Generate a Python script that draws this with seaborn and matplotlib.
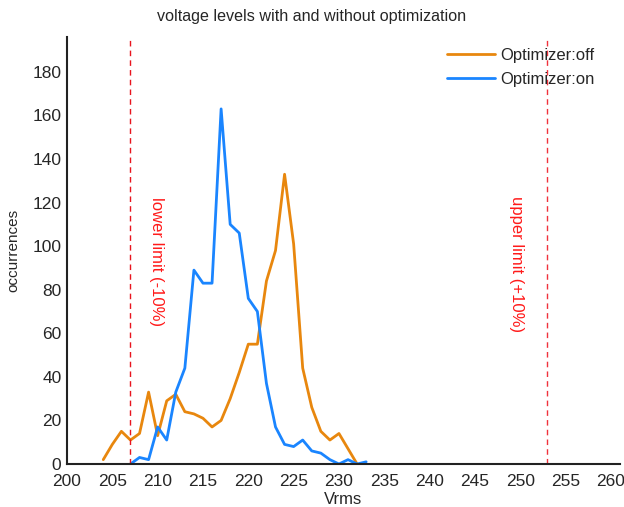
import numpy as np
import pandas as pd
import matplotlib
matplotlib.use("Agg")
import matplotlib.pyplot as plt
import seaborn as sns

# --- data ---
off_v = [204, 205, 206, 207, 208, 209, 210, 211, 212, 213, 214, 215, 216, 217, 218,
         219, 220, 221, 222, 223, 224, 225, 226, 227, 228, 229, 230, 231, 232]
off_n = [2, 9, 15, 11, 14, 33, 13, 29, 32, 24, 23, 21, 17, 20, 30,
         42, 55, 55, 84, 98, 133, 101, 44, 26, 15, 11, 14, 7, 0]
on_v = [207, 208, 209, 210, 211, 212, 213, 214, 215, 216, 217, 218, 219, 220, 221,
        222, 223, 224, 225, 226, 227, 228, 229, 230, 231, 232, 233]
on_n = [0, 3, 2, 17, 11, 33, 44, 89, 83, 83, 163, 110, 106, 76, 70,
        37, 17, 9, 8, 11, 6, 5, 2, 0, 2, 0, 1]
series_names = ["Optimizer:off", "Optimizer:on"]
series_colors = ["#E8870E", "#1A85FF"]
lower_limit = 207
upper_limit = 253
limit_labels = ["lower limit (-10%)", "upper limit (+10%)"]
x_ticks = list(range(200, 261, 5))
y_ticks = list(range(0, 181, 20))

df = pd.concat([
    pd.DataFrame({"Vrms": off_v, "occurrences": off_n, "series": series_names[0]}),
    pd.DataFrame({"Vrms": on_v, "occurrences": on_n, "series": series_names[1]}),
], ignore_index=True)

sns.set_theme(style="white")
plt.rcParams["font.family"] = ["Liberation Sans", "DejaVu Sans"]

W, H = 624, 507
fig = plt.figure(figsize=(W / 100, H / 100), dpi=100)
ax = fig.add_axes([67 / W, 1 - 464 / H, (620 - 67) / W, (464 - 37) / H])

sns.lineplot(data=df, x="Vrms", y="occurrences", hue="series",
             palette=dict(zip(series_names, series_colors)), linewidth=2.0,
             ax=ax, legend=True)

ax.axvline(lower_limit, color="#E8141E", linestyle=(0, (4, 3)), linewidth=1.0)
ax.axvline(upper_limit, color="#F0323C", linestyle=(0, (4, 3)), linewidth=1.0)
ax.text(lower_limit + 2.9, 93, limit_labels[0], rotation=270, color="#FF1A1A",
        fontsize=12, ha="center", va="center")
ax.text(upper_limit - 3.4, 92, limit_labels[1], rotation=270, color="#FF1A1A",
        fontsize=12, ha="center", va="center")

ax.set_xlim(200, 261)
ax.set_ylim(0, 196)
ax.set_xticks(x_ticks)
ax.set_yticks(y_ticks)
ax.tick_params(axis="y", labelsize=12.5, length=0, pad=4)
ax.tick_params(axis="x", labelsize=12.5, length=0, pad=7)
ax.set_xlabel("Vrms", fontsize=12, labelpad=2)
ax.set_ylabel("occurrences", fontsize=11, labelpad=9)
fig.text(0.5, 1 - 17 / H, "voltage levels with and without optimization",
         fontsize=11.6, ha="center", va="center")

for s in ["top", "right"]:
    ax.spines[s].set_visible(False)
for s in ["left", "bottom"]:
    ax.spines[s].set_color("#222222")
    ax.spines[s].set_linewidth(1.5)

leg = ax.legend(loc="upper left", frameon=False, fontsize=12, handlelength=2.9,
                handletextpad=0.3, labelspacing=0.56, borderpad=0, borderaxespad=0,
                bbox_to_anchor=(447 / W, 1 - 48 / H), bbox_transform=fig.transFigure)

fig.savefig("out.png", dpi=100)
